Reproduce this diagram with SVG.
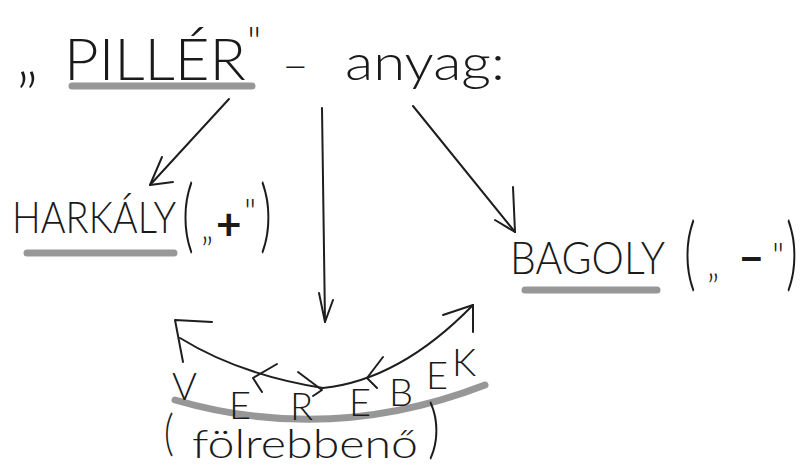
<svg xmlns="http://www.w3.org/2000/svg" width="807" height="469" viewBox="0 0 807 469">
<style>
.t{font-family:Lato,"Liberation Sans","DejaVu Sans",sans-serif;font-weight:300;fill:#1a1a1a}
.b{font-family:Lato,"Liberation Sans","DejaVu Sans",sans-serif;font-weight:700;fill:#1a1a1a}
.hl{stroke:#8c8c8c;stroke-width:7;stroke-linecap:round;fill:none;opacity:.9}
.ln{stroke:#1e1e1e;stroke-width:2;fill:none;stroke-linecap:round;stroke-linejoin:round}
</style>
<rect width="807" height="469" fill="#fff"/>
<g id="piller">
<text class="t" x="16" y="78" font-size="66">„</text>
<text class="t" x="64" y="80" font-size="58" textLength="182" lengthAdjust="spacingAndGlyphs">PILLÉR</text>
<text class="t" x="247" y="56" font-size="42">"</text>
<line class="hl" x1="72" y1="86" x2="252" y2="86"/>
<text class="t" x="282" y="80" font-size="46">–</text>
<text class="t" x="345" y="80" font-size="50" textLength="160" lengthAdjust="spacingAndGlyphs">anyag:</text>
</g>
<g id="harkaly">
<text class="t" x="12" y="233" font-size="44" textLength="164" lengthAdjust="spacingAndGlyphs">HARKÁLY</text>
<line class="hl" x1="27" y1="253" x2="174" y2="253"/>
<text class="t" font-size="46" transform="translate(182,243) scale(1,1.75)">(</text>
<text class="t" x="201" y="240" font-size="36">„</text>
<text class="b" x="216" y="240" font-size="44">+</text>
<text class="t" x="244" y="224" font-size="36">"</text>
<text class="t" font-size="46" transform="translate(260,243) scale(1,1.75)">)</text>
</g>
<g id="bagoly">
<text class="t" x="510" y="274" font-size="46" textLength="155" lengthAdjust="spacingAndGlyphs">BAGOLY</text>
<line class="hl" x1="525" y1="290" x2="657" y2="290"/>
<text class="t" font-size="46" transform="translate(684,281) scale(1,1.75)">(</text>
<text class="t" x="707" y="277" font-size="36">„</text>
<text class="b" x="738" y="273" font-size="46">–</text>
<text class="t" x="772" y="268" font-size="36">"</text>
<text class="t" font-size="46" transform="translate(786,281) scale(1,1.75)">)</text>
</g>
<g id="verebek">
<path class="hl" d="M175,400 Q330,445 485,385"/>
<text class="t" font-size="38"><tspan x="172" y="400">V</tspan><tspan x="229" y="419">E</tspan><tspan x="290" y="420">R</tspan><tspan x="349" y="416">E</tspan><tspan x="389" y="406">B</tspan><tspan x="426" y="389">E</tspan><tspan x="452" y="376">K</tspan></text>
<text class="t" font-size="38" transform="translate(164,450) scale(1,1.3)">(</text>
<text class="t" x="192" y="458" font-size="40" textLength="226" lengthAdjust="spacingAndGlyphs">fölrebbenő</text>
<text class="t" font-size="46" transform="translate(428,451) scale(1,1.4)">)</text>
</g>
<g id="connectors">
<line class="ln" x1="229" y1="99" x2="150" y2="185"/>
<polyline class="ln" points="162,157 150,185 173,182"/>
<line class="ln" x1="322" y1="108" x2="325" y2="322"/>
<polyline class="ln" points="319,293 325,322 333,300"/>
<line class="ln" x1="413" y1="106" x2="515" y2="232"/>
<polyline class="ln" points="513,187 515,232 495,220"/>
<path class="ln" d="M180,338 Q240,375 323,388 Q400,380 473,305"/>
<polyline class="ln" points="212,322 175,320 183,362"/>
<polyline class="ln" points="443,315 473,305 473,332"/>
<polyline class="ln" points="277,364 253,378 262,392"/>
<polyline class="ln" points="298,372 322,390 313,396"/>
<polyline class="ln" points="383,357 367,378 377,388"/>
</g>
</svg>
